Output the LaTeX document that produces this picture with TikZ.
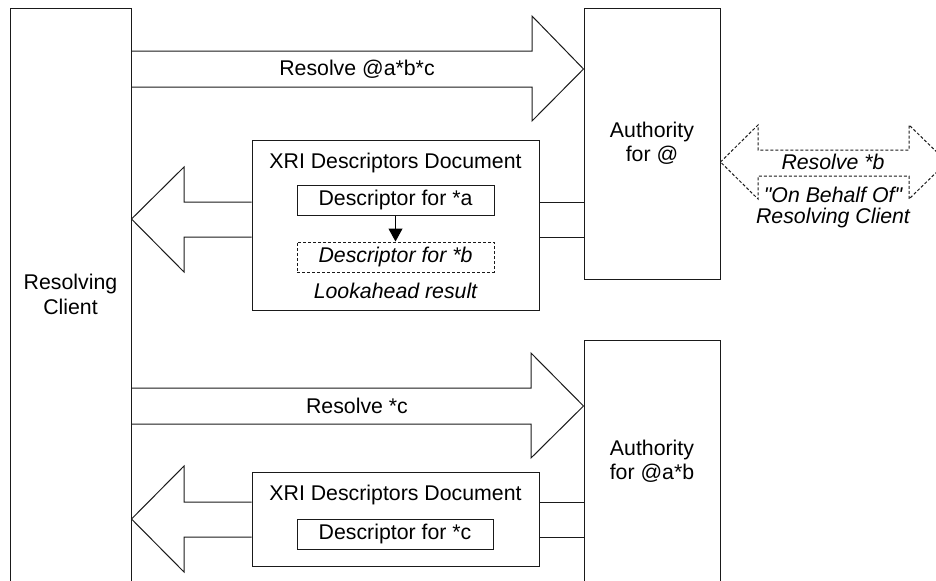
\documentclass[tikz,border=0pt]{standalone}
\usepackage{fontspec}
\setmainfont{Liberation Sans}[Ligatures=TeXOff]
\usepackage{xcolor}
\definecolor{LINEcolor}{HTML}{1a1a1a}
\usepackage{tikz}
\usetikzlibrary{arrows.meta, calc}

\begin{document}
\begin{tikzpicture}[x=0.5pt, y=-0.5pt]
    \tikzset{%
        every node/.style={font=\fontsize{10.65pt}{12pt}\selectfont, align=center, inner sep=0pt},
        party/.style={draw=LINEcolor, line width=0.5pt, minimum width=68pt},
        docbox/.style={draw=LINEcolor, line width=0.5pt, minimum width=143.5pt},
        descbox/.style={draw=LINEcolor, line width=0.5pt, minimum width=98.5pt, minimum height=15pt},
        blockarrow/.style={draw=LINEcolor, line width=0.5pt, line join=miter},
        dottedarrow/.style={draw=LINEcolor, line width=0.5pt, dash pattern=on 1.5pt off 1pt},
        lbl/.style={font=\fontsize{10.65pt}{10.5pt}\selectfont\itshape},
    }

    \clip (0, 0) rectangle (936, 580);

    % parties
    \node [party, minimum width=60.5pt, minimum height=286.5pt] (client) at (70.5, 294.5) {Resolving\\[0.5pt]Client};
    \node [party, minimum height=135.5pt] (auth1) at (652, 143.5) {Authority\\for @};
    \node [party, minimum height=121.5pt] (auth2) at (652, 461.5) {Authority\\for @a*b};

    % first round
    \draw [blockarrow] (client.east |- 0,51) -- (532, 51) -- (532, 16) -- (auth1.west |- 0,69)
        -- (532, 121) -- (532, 87) -- (client.east |- 0,87);
    \node (req1) at (357, 69) {Resolve @a*b*c};

    \node [docbox, minimum height=85pt] (doc1) at (395.5, 225) {};
    \node (doc1title) at ($(doc1.north) + (0, 23)$) {XRI Descriptors Document};
    \node [descbox] (desca) at (395.5, 200) {Descriptor for *a};
    \node [descbox, dash pattern=on 1.5pt off 1pt] (descb) at (395.5, 257) {\itshape Descriptor for *b};
    \node [lbl] (lookahead) at (395.5, 291) {Lookahead result};
    \draw [line width=0.5pt, -{Triangle[width=7pt, length=6.5pt]}] (desca) -- (descb);

    \draw [blockarrow] (auth1.west |- 0,202) -- (doc1.east |- 0,202);
    \draw [blockarrow] (auth1.west |- 0,237) -- (doc1.east |- 0,237);
    \draw [blockarrow] (doc1.west |- 0,202) -- (184, 202) -- (184, 167) -- (client.east |- 0,219)
        -- (184, 272) -- (184, 237) -- (doc1.west |- 0,237);

    % lookahead on behalf of the client
    \draw [dottedarrow] (auth1.east |- 0,162) -- (758, 125) -- (758, 150) -- (909, 150) -- (909, 125)
        -- (947, 162) -- (909, 199) -- (909, 176) -- (758, 176) -- (758, 199) -- cycle;
    \node [lbl] (req2) at (833, 162) {Resolve *b};
    \node [lbl] (behalf) at (833, 207.5) {"On Behalf Of"\\Resolving Client};

    % second round
    \draw [blockarrow] (client.east |- 0,388) -- (531, 388) -- (531, 353) -- (auth2.west |- 0,406)
        -- (531, 458) -- (531, 424) -- (client.east |- 0,424);
    \node (req3) at (357, 406) {Resolve *c};

    \node [docbox, minimum height=47pt] (doc2) at (395.5, 519) {};
    \node (doc2title) at ($(doc2.north) + (0, 23)$) {XRI Descriptors Document};
    \node [descbox, minimum width=98pt] (descc) at (395, 534) {Descriptor for *c};

    \draw [blockarrow] (auth2.west |- 0,502) -- (doc2.east |- 0,502);
    \draw [blockarrow] (auth2.west |- 0,537) -- (doc2.east |- 0,537);
    \draw [blockarrow] (doc2.west |- 0,502) -- (184, 502) -- (184, 466) -- (client.east |- 0,519)
        -- (184, 572) -- (184, 537) -- (doc2.west |- 0,537);
\end{tikzpicture}
\end{document}
